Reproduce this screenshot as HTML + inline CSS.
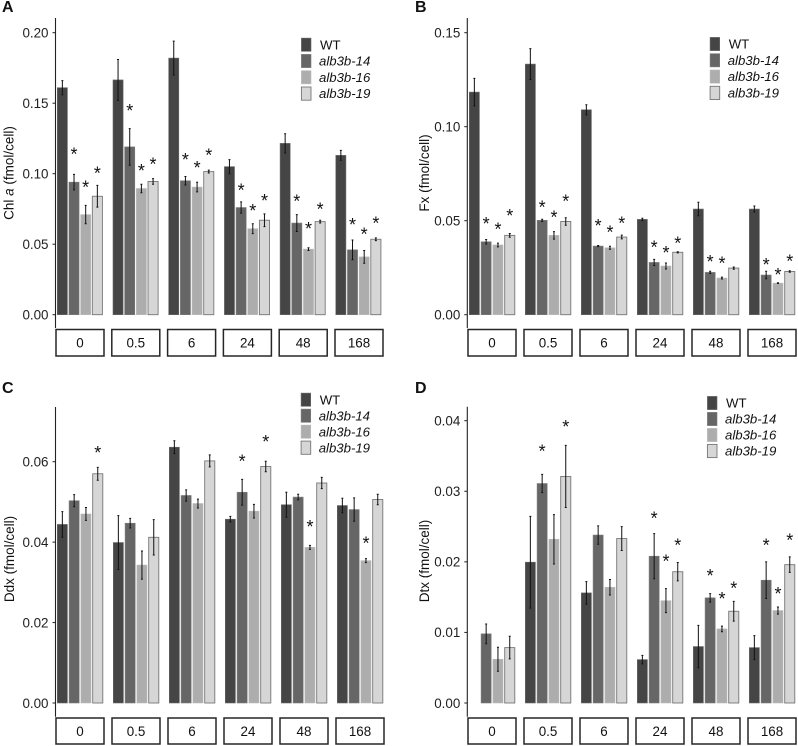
<!DOCTYPE html>
<html lang="en">
<head>
<meta charset="utf-8">
<title>Pigment content of WT and alb3b lines</title>
<style>
html,body{margin:0;padding:0;background:#fff;}
svg{display:block;font-family:"Liberation Sans",sans-serif;}
</style>
</head>
<body>
<svg id="fig" width="798" height="746" viewBox="0 0 798 746" xmlns="http://www.w3.org/2000/svg"></svg>
<script>
const categories = ["0", "0.5", "6", "24", "48", "168"];
const seriesNames = ["WT", "alb3b-14", "alb3b-16", "alb3b-19"];

const ticksA = [0, 0.05, 0.10, 0.15, 0.20];
const ticksB = [0, 0.05, 0.10, 0.15];
const ticksC = [0, 0.02, 0.04, 0.06];
const ticksD = [0, 0.01, 0.02, 0.03, 0.04];

const valuesAwt = [0.161, 0.1665, 0.182, 0.105, 0.1215, 0.113];
const valuesA14 = [0.094, 0.119, 0.095, 0.076, 0.065, 0.046];
const valuesA16 = [0.071, 0.0895, 0.0905, 0.061, 0.0465, 0.041];
const valuesA19 = [0.084, 0.0945, 0.1015, 0.067, 0.066, 0.0535];
const errorsAwt = [0.005, 0.0145, 0.012, 0.005, 0.0068, 0.0035];
const errorsA14 = [0.0055, 0.013, 0.003, 0.004, 0.006, 0.007];
const errorsA16 = [0.0065, 0.003, 0.0034, 0.0035, 0.001, 0.0045];
const errorsA19 = [0.0077, 0.002, 0.001, 0.0045, 0.001, 0.001];
const starsAwt = [null, null, null, null, null, null];
const starsA14 = [0.115, 0.146, 0.111, 0.0896, 0.0818, 0.0652];
const starsA16 = [0.0915, 0.1033, 0.1054, 0.0749, 0.0622, 0.0582];
const starsA19 = [0.1014, 0.108, 0.1144, 0.082, 0.0761, 0.066];

const valuesBwt = [0.1184, 0.1333, 0.109, 0.0507, 0.0562, 0.0562];
const valuesB14 = [0.0388, 0.0502, 0.0365, 0.0278, 0.0225, 0.0211];
const valuesB16 = [0.0371, 0.0422, 0.0356, 0.0259, 0.0195, 0.0168];
const valuesB19 = [0.0422, 0.0496, 0.0413, 0.0332, 0.0248, 0.023];
const errorsBwt = [0.0073, 0.0082, 0.0027, 0.0006, 0.0036, 0.0016];
const errorsB14 = [0.0012, 0.0006, 0.0003, 0.0016, 0.0006, 0.002];
const errorsB16 = [0.001, 0.002, 0.0008, 0.0016, 0.0005, 0.0002];
const errorsB19 = [0.001, 0.002, 0.001, 0.0003, 0.0006, 0.0004];
const starsBwt = [null, null, null, null, null, null];
const starsB14 = [0.0493, 0.058, 0.0482, 0.0369, 0.0291, 0.0275];
const starsB16 = [0.0463, 0.0527, 0.0447, 0.034, 0.0282, 0.0222];
const starsB19 = [0.0535, 0.0613, 0.0495, 0.039, null, 0.0293];

const valuesCwt = [0.0444, 0.0399, 0.0636, 0.0457, 0.0493, 0.0491];
const valuesC14 = [0.0503, 0.0447, 0.0516, 0.0524, 0.0512, 0.0481];
const valuesC16 = [0.047, 0.0343, 0.0496, 0.0477, 0.0387, 0.0354];
const valuesC19 = [0.057, 0.0412, 0.0602, 0.0588, 0.0547, 0.0506];
const errorsCwt = [0.0032, 0.0067, 0.0016, 0.0007, 0.0031, 0.0018];
const errorsC14 = [0.0015, 0.0012, 0.0014, 0.0032, 0.0007, 0.0029];
const errorsC16 = [0.0016, 0.0035, 0.0011, 0.0017, 0.0005, 0.0005];
const errorsC19 = [0.0016, 0.0044, 0.0015, 0.0013, 0.0014, 0.0013];
const starsCwt = [null, null, null, null, null, null];
const starsC14 = [null, null, null, 0.0606, null, null];
const starsC16 = [null, null, null, null, 0.0443, 0.0401];
const starsC19 = [0.0626, null, null, 0.0654, null, null];

const valuesDwt = [null, 0.01995, 0.0156, 0.00615, 0.008, 0.00785];
const valuesD14 = [0.0098, 0.0311, 0.0238, 0.0208, 0.0149, 0.0174];
const valuesD16 = [0.0062, 0.0232, 0.0164, 0.0145, 0.0105, 0.0131];
const valuesD19 = [0.00785, 0.0321, 0.0233, 0.0186, 0.013, 0.0196];
const errorsDwt = [null, 0.0065, 0.0016, 0.0006, 0.003, 0.0017];
const errorsD14 = [0.0014, 0.0013, 0.0013, 0.0032, 0.0006, 0.0026];
const errorsD16 = [0.0017, 0.0035, 0.0011, 0.0017, 0.0004, 0.0005];
const errorsD19 = [0.0016, 0.0044, 0.0017, 0.0013, 0.0014, 0.0011];
const starsDwt = [null, null, null, null, null, null];
const starsD14 = [null, 0.0359, null, 0.0264, 0.0183, 0.0226];
const starsD16 = [null, null, null, 0.0203, 0.015, 0.0157];
const starsD19 = [null, 0.0394, null, 0.0226, 0.0165, 0.0233];

const NS = "http://www.w3.org/2000/svg";
const fig = document.getElementById("fig");
const fills = ["#454545", "#666666", "#adadad", "#d6d6d6"];
const strokes = ["#6a6a6a", "#7c7c7c", "#bcbcbc", "#777777"];

function mk(parent, tag, attrs, text) {
  const el = document.createElementNS(NS, tag);
  for (const k in attrs) el.setAttribute(k, attrs[k]);
  if (text !== undefined) el.textContent = text;
  parent.appendChild(el);
  return el;
}

function drawPanel(p) {
  const g = mk(fig, "g", {});
  
  

  const y = v => p.y0 - (v / p.yMax) * (p.y0 - p.yTop);

  const letter = mk(g, "text", {x: p.letterX, y: p.letterY, "font-size": 16, "font-weight": "bold", fill: "#111"}, p.key.toUpperCase());
  
  

  const axis = mk(g, "line", {x1: p.axisX, x2: p.axisX, y1: p.axisTop, y2: p.axisBottom, stroke: "#222", "stroke-width": 1.1});
  
  

  p.ticks.forEach(t => {
    const tick = mk(g, "line", {x1: p.axisX - 3, x2: p.axisX, y1: y(t), y2: y(t), stroke: "#222", "stroke-width": 1});
    
    
    const lab = mk(g, "text", {x: p.axisX - 7, y: y(t) + 4.8, "font-size": 13.4, "text-anchor": "end", fill: "#222"}, t.toFixed(p.decimals));
    
    
  });

  const title = mk(g, "text", {transform: "translate(" + p.titleX + "," + p.titleY + ") rotate(-90)", "font-size": 13.5, "text-anchor": "middle", fill: "#111"});
  
  
  mk(title, "tspan", {}, p.titleA);
  if (p.titleI) {
    mk(title, "tspan", {"font-style": "italic"}, p.titleI);
    mk(title, "tspan", {}, p.titleB);
  }

  categories.forEach((c, i) => {
    const sx = p.stripX + i * p.stripStep;
    const box = mk(g, "rect", {x: sx, y: p.stripY, width: 48, height: p.stripH, fill: "#fff", stroke: "#262626", "stroke-width": 1.5});
    
    
    const lab = mk(g, "text", {x: sx + 24, y: p.stripY + p.stripH / 2 + 4.8, "font-size": 13.4, "text-anchor": "middle", fill: "#111"}, c);
    
    
  });

  p.values.forEach((vals, s) => {
    vals.forEach((v, i) => {
      if (v === null) return;
      const bx = p.barX + i * p.barStep + s * p.barGap;
      const top = y(v);
      const bar = mk(g, "rect", {x: bx + 0.3, y: top, width: p.barW - 0.6, height: p.y0 - top, fill: fills[s], stroke: strokes[s], "stroke-width": s === 3 ? 0.9 : 0.6});
      
      
    });
  });

  p.values.forEach((vals, s) => {
    vals.forEach((v, i) => {
      if (v === null) return;
      const e = p.errors[s][i];
      const cx = p.barX + i * p.barStep + s * p.barGap + p.barW / 2;
      const eg = mk(g, "path", {
        d: "M" + cx + " " + y(v + e) + "V" + y(v - e) +
           "M" + (cx - 1) + " " + y(v + e) + "H" + (cx + 1) +
           "M" + (cx - 1) + " " + y(v - e) + "H" + (cx + 1),
        stroke: "#111", "stroke-width": 1, fill: "none"});
      
      
    });
  });

  p.stars.forEach((vals, s) => {
    vals.forEach((v, i) => {
      if (v === null) return;
      const cx = p.barX + i * p.barStep + s * p.barGap + p.barW / 2;
      const st = mk(g, "text", {x: cx, y: y(v) + 8, "font-size": 18, "text-anchor": "middle", fill: "#111"}, "*");
      
      
    });
  });

  seriesNames.forEach((n, s) => {
    const ly = p.legY + s * p.legStep;
    const sw = mk(g, "rect", {x: p.legX + 0.4, y: ly + 0.4, width: 9.6, height: 13.2, fill: fills[s], stroke: strokes[s], "stroke-width": s === 3 ? 0.9 : 0.6});
    
    
    const attrs = {x: p.legX + (s === 0 ? 19 : 18), y: ly + 11.6, "font-size": 13.2, fill: "#111"};
    if (s > 0) attrs["font-style"] = "italic";
    const lt = mk(g, "text", attrs, n);
    
    
  });
}

drawPanel({
  key: "a", letterX: 2, letterY: 12,
  axisX: 55.5, axisTop: 18, axisBottom: 328, y0: 314.7, yTop: 32.7, yMax: 0.20,
  ticks: ticksA, decimals: 2,
  titleX: 13.3, titleY: 173, titleA: "Chl ", titleI: "a", titleB: " (fmol/cell)",
  stripX: 56, stripStep: 55.8, stripY: 329.5, stripH: 26.5,
  barX: 57, barStep: 55.7, barGap: 11.67, barW: 10.7,
  legX: 301, legY: 37.7, legStep: 16.3,
  values: [valuesAwt, valuesA14, valuesA16, valuesA19],
  errors: [errorsAwt, errorsA14, errorsA16, errorsA19],
  stars: [starsAwt, starsA14, starsA16, starsA19]
});
drawPanel({
  key: "b", letterX: 415, letterY: 12,
  axisX: 467.3, axisTop: 18, axisBottom: 328, y0: 314.7, yTop: 32.7, yMax: 0.15,
  ticks: ticksB, decimals: 2,
  titleX: 429, titleY: 173, titleA: "Fx (fmol/cell)",
  stripX: 468, stripStep: 56, stripY: 329.5, stripH: 26.5,
  barX: 469, barStep: 56, barGap: 11.8, barW: 10.7,
  legX: 709.7, legY: 37, legStep: 16.3,
  values: [valuesBwt, valuesB14, valuesB16, valuesB19],
  errors: [errorsBwt, errorsB14, errorsB16, errorsB19],
  stars: [starsBwt, starsB14, starsB16, starsB19]
});
drawPanel({
  key: "c", letterX: 2, letterY: 393,
  axisX: 55.5, axisTop: 407, axisBottom: 716.7, y0: 703, yTop: 461.7, yMax: 0.06,
  ticks: ticksC, decimals: 2,
  titleX: 14, titleY: 559, titleA: "Ddx (fmol/cell)",
  stripX: 56, stripStep: 56, stripY: 718, stripH: 26,
  barX: 57, barStep: 56, barGap: 11.8, barW: 10.7,
  legX: 300.7, legY: 392.7, legStep: 16,
  values: [valuesCwt, valuesC14, valuesC16, valuesC19],
  errors: [errorsCwt, errorsC14, errorsC16, errorsC19],
  stars: [starsCwt, starsC14, starsC16, starsC19]
});
drawPanel({
  key: "d", letterX: 415, letterY: 393,
  axisX: 467.3, axisTop: 406.7, axisBottom: 716.7, y0: 703, yTop: 420.7, yMax: 0.04,
  ticks: ticksD, decimals: 2,
  titleX: 429, titleY: 561, titleA: "Dtx (fmol/cell)",
  stripX: 468, stripStep: 56, stripY: 718, stripH: 26,
  barX: 469, barStep: 56, barGap: 11.8, barW: 10.7,
  legX: 707, legY: 396, legStep: 16,
  values: [valuesDwt, valuesD14, valuesD16, valuesD19],
  errors: [errorsDwt, errorsD14, errorsD16, errorsD19],
  stars: [starsDwt, starsD14, starsD16, starsD19]
});
</script>
</body>
</html>
